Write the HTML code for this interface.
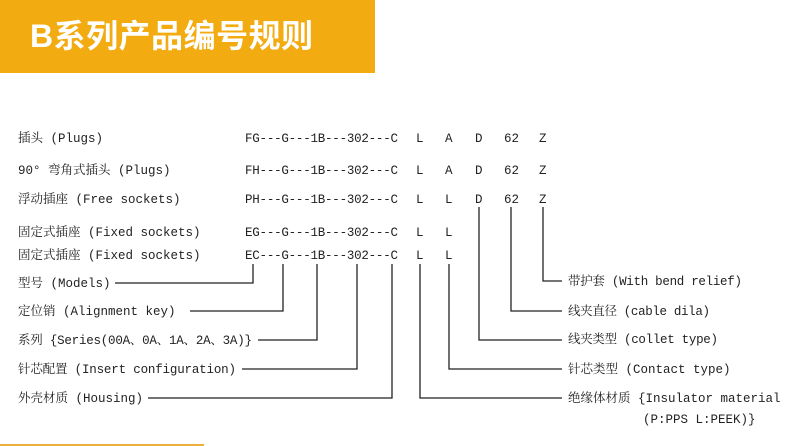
<!DOCTYPE html>
<html><head><meta charset="utf-8"><style>
html,body{margin:0;padding:0;background:#fff;}
body{width:790px;height:446px;position:relative;overflow:hidden;}
.band{position:absolute;left:0;top:0;width:375px;height:73px;background:#F2AB10;}
.title{position:absolute;left:30px;top:16px;color:#fff;font:bold 32px "Liberation Sans","Noto Sans CJK SC",sans-serif;line-height:40px;letter-spacing:0.5px;}
.bot{position:absolute;left:0;top:444px;width:204px;height:2px;background:#EBB03A;}
svg{position:absolute;left:0;top:0;}
text{font-family:"Liberation Mono","Noto Serif CJK SC",monospace;font-size:12.5px;fill:#222;}
</style></head><body>
<div class="band"></div>
<div class="title">B系列产品编号规则</div>
<div class="bot"></div>
<svg width="790" height="446" xmlns="http://www.w3.org/2000/svg">
<g>
<text x="18" y="142">插头 (Plugs)</text>
<text x="18" y="174">90° 弯角式插头 (Plugs)</text>
<text x="18" y="203">浮动插座 (Free sockets)</text>
<text x="18" y="236">固定式插座 (Fixed sockets)</text>
<text x="18" y="259">固定式插座 (Fixed sockets)</text>

<text x="245" y="142" textLength="153">FG---G---1B---302---C</text>
<text x="245" y="174" textLength="153">FH---G---1B---302---C</text>
<text x="245" y="203" textLength="153">PH---G---1B---302---C</text>
<text x="245" y="236" textLength="153">EG---G---1B---302---C</text>
<text x="245" y="259" textLength="153">EC---G---1B---302---C</text>

<text x="416" y="142">L</text><text x="445" y="142">A</text><text x="475" y="142">D</text><text x="504" y="142">62</text><text x="539" y="142">Z</text>
<text x="416" y="174">L</text><text x="445" y="174">A</text><text x="475" y="174">D</text><text x="504" y="174">62</text><text x="539" y="174">Z</text>
<text x="416" y="203">L</text><text x="445" y="203">L</text><text x="475" y="203">D</text><text x="504" y="203">62</text><text x="539" y="203">Z</text>
<text x="416" y="236">L</text><text x="445" y="236">L</text>
<text x="416" y="259">L</text><text x="445" y="259">L</text>

<text x="18" y="287">型号 (Models)</text>
<text x="18" y="315">定位销 (Alignment key)</text>
<text x="18" y="344" textLength="234">系列 {Series(00A、0A、1A、2A、3A)}</text>
<text x="18" y="373" textLength="218">针芯配置 (Insert configuration)</text>
<text x="18" y="402">外壳材质 (Housing)</text>

<text x="568" y="285" textLength="174">带护套 (With bend relief)</text>
<text x="568" y="315" textLength="142">线夹直径 (cable dila)</text>
<text x="568" y="343" textLength="150">线夹类型 (collet type)</text>
<text x="568" y="373">针芯类型 (Contact type)</text>
<text x="568" y="402">绝缘体材质 {Insulator material</text>
<text x="643" y="423">(P:PPS L:PEEK)}</text>
</g>
<g stroke="#222" stroke-width="1.3" fill="none">
<polyline points="115,283 253,283 253,264"/>
<polyline points="190,311 283,311 283,264"/>
<polyline points="258,340 317,340 317,264"/>
<polyline points="242,369 357,369 357,264"/>
<polyline points="148,398 392,398 392,264"/>
<polyline points="420,264 420,398 562,398"/>
<polyline points="449,264 449,369 562,369"/>
<polyline points="479,207 479,340 562,340"/>
<polyline points="511,207 511,311 562,311"/>
<polyline points="543,207 543,281 562,281"/>
</g>
</svg>
</body></html>
